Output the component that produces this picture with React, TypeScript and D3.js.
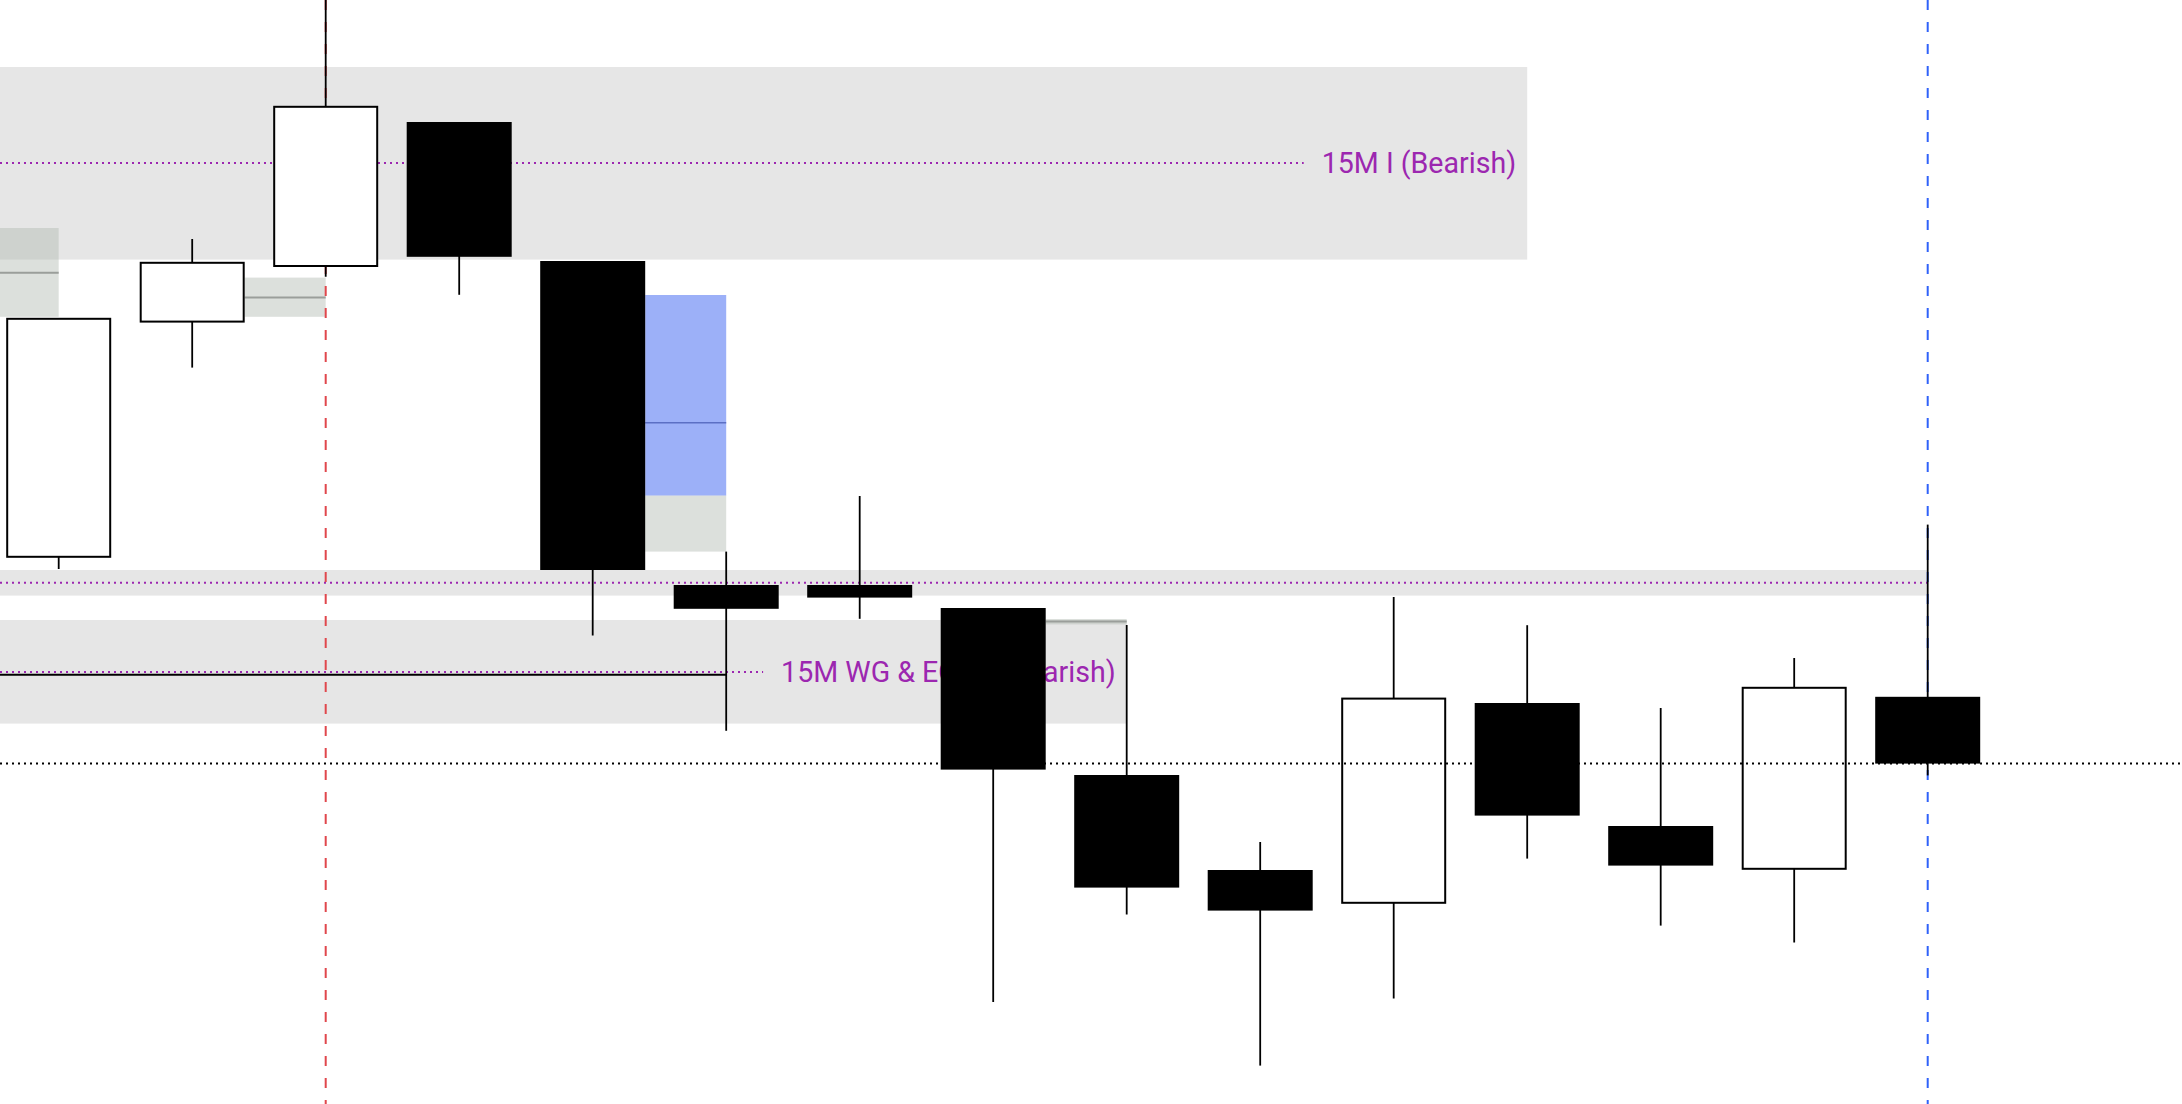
import React, { useEffect, useRef } from "react";
import * as d3 from "d3";

const W = 2182;
const H = 1104;

// Candles (index 0..14)
const opens = [18136.8, 18195.6, 18209.5, 18245.5, 18210.75, 18129.75, 18129.75, 18124, 18082.25, 18058.5, 18050.3, 18100.25, 18069.5, 18058.8, 18101.8];
const highs = [18196.3, 18216.25, 18290, 18245.5, 18210.75, 18138.1, 18152, 18124, 18119.75, 18065.5, 18126.75, 18119.7, 18099, 18111.5, 18144.85];
const lows = [18133.75, 18184.1, 18206.8, 18202.3, 18117.1, 18093.3, 18121.3, 18025.5, 18047.4, 18009.6, 18026.4, 18061.35, 18044.6, 18040.35, 18082.15];
const closes = [18196.3, 18210.3, 18249.3, 18211.8, 18133.5, 18123.8, 18126.6, 18083.6, 18054.1, 18048.35, 18101.35, 18072.1, 18059.6, 18104.05, 18085.1];

// Zones (grey bands with dotted purple mid line)
const zoneTops = [18259.25, 18133.5, 18121];
const zoneBottoms = [18211.1, 18127.1, 18095.1];
const zoneLines = [18235.25, 18130.3, 18108];
const zoneEndIdx = [11, 14, 8];
const zoneLabels = ["15M I (Bearish)", "", "15M WG & EQHs (Bearish)"];

// Solid black level
const levelPrice = 18107.3;
const levelEndIdx = 5;

// Imbalance boxes: start at right edge of candle startIdx, end at centre of candle endIdx
const boxStartIdx = [-1, 1, 4, 4, 7];
const boxEndIdx = [0, 2, 5, 5, 8];
const boxTops = [18219, 18206.6, 18202.25, 18152.1, 18121.25];
const boxBottoms = [18196.8, 18196.8, 18152.1, 18138.1, 18119.9];
const boxMids = [18207.8, 18201.6, 18170.3, NaN, 18120.6];
const boxKinds = ["grey", "grey", "blue", "grey", "grey"];

// Vertical session markers
const vlineIdx = [2, 14];
const vlineColors = ["#e0474c", "#2f62f9"];

const currentPrice = closes[closes.length - 1];

export default function App() {
  const ref = useRef<SVGSVGElement | null>(null);

  useEffect(() => {
    const svg = d3.select(ref.current);
    svg.selectAll("*").remove();

    const x = d3.scaleLinear().domain([0, 14]).range([58.7, 1927.7]);
    const y = d3.scaleLinear().domain([18000, 18276]).range([H, 0]);
    const bodyW = 105;
    const half = bodyW / 2;

    svg.append("rect").attr("width", W).attr("height", H).attr("fill", "#ffffff");

    // zone bands
    const zg = svg.append("g");
    zoneTops.forEach((t, i) => {
      zg.append("rect")
        .attr("x", 0)
        .attr("y", y(t))
        .attr("width", x(zoneEndIdx[i]))
        .attr("height", y(zoneBottoms[i]) - y(t))
        .attr("fill", "#e6e6e6");
    });

    // boxes
    const bg = svg.append("g");
    boxTops.forEach((t, i) => {
      const x0 = x(boxStartIdx[i]) + half;
      const x1 = x(boxEndIdx[i]);
      bg.append("rect")
        .attr("x", x0)
        .attr("y", y(t))
        .attr("width", x1 - x0)
        .attr("height", y(boxBottoms[i]) - y(t))
        .attr("fill", boxKinds[i] === "blue" ? "#9cb0f8" : "rgba(178,186,178,0.45)");
      if (!isNaN(boxMids[i])) {
        bg.append("line")
          .attr("x1", x0)
          .attr("x2", x1)
          .attr("y1", y(boxMids[i]))
          .attr("y2", y(boxMids[i]))
          .attr("stroke", boxKinds[i] === "blue" ? "#5b6fc4" : "#9a9e9a")
          .attr("stroke-width", boxKinds[i] === "blue" ? 1.5 : 2);
      }
    });

    // labels + dotted lines
    const lg = svg.append("g");
    zoneLines.forEach((p, i) => {
      const xEnd = x(zoneEndIdx[i]);
      let lineEnd = xEnd;
      if (zoneLabels[i]) {
        const t = lg.append("text")
          .attr("x", xEnd - 11)
          .attr("y", y(p))
          .attr("text-anchor", "end")
          .attr("dominant-baseline", "central")
          .attr("font-family", "Roboto, 'Noto Sans', sans-serif")
          .attr("font-size", 28.6)
          .attr("fill", "#9c27b0")
          .text(zoneLabels[i]);
        const tw = (t.node() as SVGTextElement).getComputedTextLength();
        lineEnd = xEnd - 11 - tw - 18;
      }
      lg.append("line")
        .attr("x1", 0)
        .attr("x2", lineEnd)
        .attr("y1", y(p))
        .attr("y2", y(p))
        .attr("stroke", "#9c27b0")
        .attr("stroke-width", 2)
        .attr("stroke-dasharray", "2,4");
    });

    // solid level
    svg.append("line")
      .attr("x1", 0)
      .attr("x2", x(levelEndIdx))
      .attr("y1", y(levelPrice))
      .attr("y2", y(levelPrice))
      .attr("stroke", "#000")
      .attr("stroke-width", 2);

    // vertical dashed lines
    vlineIdx.forEach((idx, i) => {
      svg.append("line")
        .attr("x1", x(idx))
        .attr("x2", x(idx))
        .attr("y1", 0)
        .attr("y2", H)
        .attr("stroke", vlineColors[i])
        .attr("stroke-width", 2)
        .attr("stroke-dasharray", "10,12");
    });

    // candles
    const cg = svg.append("g");
    opens.forEach((o, i) => {
      const c = closes[i];
      const cx = x(i);
      cg.append("line")
        .attr("x1", cx)
        .attr("x2", cx)
        .attr("y1", y(highs[i]))
        .attr("y2", y(lows[i]))
        .attr("stroke", "#000")
        .attr("stroke-width", 1.8);
      const up = c >= o;
      const top = y(Math.max(o, c));
      const bot = y(Math.min(o, c));
      if (up) {
        cg.append("rect")
          .attr("x", cx - half + 1)
          .attr("y", top)
          .attr("width", bodyW - 2)
          .attr("height", Math.max(1, bot - top))
          .attr("fill", "#fff")
          .attr("stroke", "#000")
          .attr("stroke-width", 2);
      } else {
        cg.append("rect")
          .attr("x", cx - half)
          .attr("y", top)
          .attr("width", bodyW)
          .attr("height", Math.max(1, bot - top))
          .attr("fill", "#000");
      }
    });

    // current price dotted line
    svg.append("line")
      .attr("x1", 0)
      .attr("x2", W)
      .attr("y1", y(currentPrice))
      .attr("y2", y(currentPrice))
      .attr("stroke", "#000")
      .attr("stroke-width", 2)
      .attr("stroke-dasharray", "2,4");
  }, []);

  return (
    <svg
      ref={ref}
      width={W}
      height={H}
      style={{ position: "absolute", left: 0, top: 0, display: "block" }}
    />
  );
}
